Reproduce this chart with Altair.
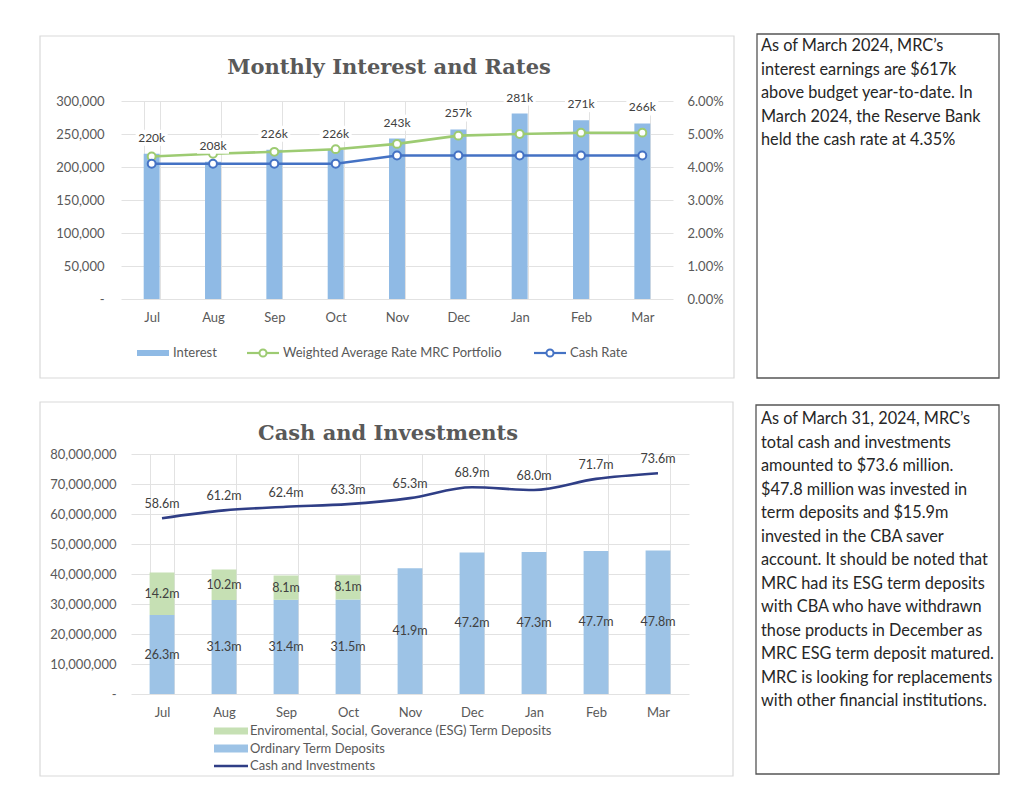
import altair as alt
import pandas as pd

# ---------------- data ----------------
months = ["Jul", "Aug", "Sep", "Oct", "Nov", "Dec", "Jan", "Feb", "Mar"]

interest = [220000, 208000, 226000, 226000, 243000, 257000, 281000, 271000, 266000]
weighted_avg_rate = [0.0432, 0.0440, 0.0446, 0.0454, 0.0470, 0.0495, 0.0500, 0.0504, 0.0504]
cash_rate = [0.0410, 0.0410, 0.0410, 0.0410, 0.0435, 0.0435, 0.0435, 0.0435, 0.0435]

ordinary_td_m = [26.3, 31.3, 31.4, 31.5, 41.9, 47.2, 47.3, 47.7, 47.8]
esg_td_m = [14.2, 10.2, 8.1, 8.1, 0, 0, 0, 0, 0]
cash_investments_m = [58.6, 61.2, 62.4, 63.3, 65.3, 68.9, 68.0, 71.7, 73.6]

top_series = ["Interest", "Weighted Average Rate MRC Portfolio", "Cash Rate"]
top_colors = ["#8FBAE5", "#9DCB72", "#4472C4"]
bottom_series = ["Enviromental, Social, Goverance (ESG) Term Deposits",
                 "Ordinary Term Deposits", "Cash and Investments"]
bottom_colors = ["#C6E0B4", "#9DC3E6", "#2F3E86"]

top_title = "Monthly Interest and Rates"
bottom_title = "Cash and Investments"

top_note = ["As of March 2024, MRC\u2019s",
            "interest earnings are $617k",
            "above budget year-to-date. In",
            "March 2024, the Reserve Bank",
            "held the cash rate at 4.35%"]
bottom_note = ["As of March 31, 2024, MRC\u2019s",
               "total cash and investments",
               "amounted to $73.6 million.",
               "$47.8 million was invested in",
               "term deposits and $15.9m",
               "invested in the CBA saver",
               "account.  It should be noted that",
               "MRC had its ESG term deposits",
               "with CBA who have withdrawn",
               "those products in December as",
               "MRC ESG term deposit matured.",
               "MRC is looking for replacements",
               "with other financial institutions."]

left_ticks_top = [0, 50000, 100000, 150000, 200000, 250000, 300000]
right_ticks_top = [0, 0.01, 0.02, 0.03, 0.04, 0.05, 0.06]
left_ticks_bottom = [0, 10e6, 20e6, 30e6, 40e6, 50e6, 60e6, 70e6, 80e6]

# ---------------- tables ----------------
interest_df = pd.DataFrame({"Month": months, "Interest": interest, "Series": top_series[0]})
rate_df = pd.concat([
    pd.DataFrame({"Month": months, "Rate": weighted_avg_rate, "Series": top_series[1]}),
    pd.DataFrame({"Month": months, "Rate": cash_rate, "Series": top_series[2]}),
])
bars_df = pd.concat([
    pd.DataFrame({"Month": months, "Amount": [v * 1e6 for v in ordinary_td_m],
                  "Type": bottom_series[1], "Order": 0}),
    pd.DataFrame({"Month": months, "Amount": [v * 1e6 for v in esg_td_m],
                  "Type": bottom_series[0], "Order": 1}),
])
total_df = pd.DataFrame({"Month": months, "Total": [v * 1e6 for v in cash_investments_m],
                         "Series": bottom_series[2]})
deco = pd.DataFrame({"k": [0]})

FONT = "Lato"
GREY = "#595959"
TXT = "#404040"


def box(x1, x2, y1, y2, color, width):
    return alt.Chart(deco).mark_rect(filled=False, stroke=color, strokeWidth=width).encode(
        x=alt.value(x1), x2=alt.value(x2), y=alt.value(y1), y2=alt.value(y2))


def cover(x1, x2, y1, y2):
    return alt.Chart(deco).mark_rect(color="white").encode(
        x=alt.value(x1), x2=alt.value(x2), y=alt.value(y1), y2=alt.value(y2))


def title_text(txt, x, y):
    return alt.Chart(deco).mark_text(
        text=txt, font="DejaVu Serif", fontWeight="bold", fontSize=21, color=GREY,
        align="center", baseline="alphabetic").encode(x=alt.value(x), y=alt.value(y))


def note_text(lines, x, y):
    return alt.Chart(deco).mark_text(
        text=lines, font=FONT, fontSize=16.3, color="#262626", align="left",
        baseline="alphabetic", lineHeight=23.5).encode(x=alt.value(x), y=alt.value(y))


def leg_rect(x1, x2, yc, h, color):
    return alt.Chart(deco).mark_rect(color=color).encode(
        x=alt.value(x1), x2=alt.value(x2), y=alt.value(yc - h / 2), y2=alt.value(yc + h / 2))


def leg_line(x1, x2, yc, color, w):
    return alt.Chart(deco).mark_rule(color=color, strokeWidth=w).encode(
        x=alt.value(x1), x2=alt.value(x2), y=alt.value(yc))


def leg_marker(xc, yc, color):
    return alt.Chart(deco).mark_point(
        shape="circle", size=50, filled=True, fill="white", stroke=color,
        strokeWidth=2, opacity=1).encode(x=alt.value(xc), y=alt.value(yc))


def leg_label(txt, x, yc):
    return alt.Chart(deco).mark_text(
        text=txt, font=FONT, fontSize=13, color=GREY, align="left",
        baseline="middle").encode(x=alt.value(x), y=alt.value(yc))


zero_dash = "datum.value === 0 ? '-' : format(datum.value, ',')"

# ---------------- top chart ----------------
top_color = alt.Color("Series:N", scale=alt.Scale(domain=top_series, range=top_colors), legend=None)

x_top = alt.X("Month:N", sort=months, title=None,
              scale=alt.Scale(paddingInner=0.74, paddingOuter=0.37),
              axis=alt.Axis(labelAngle=0, grid=True, tickBand="extent", labelPadding=12))

bars_top = alt.Chart(interest_df).mark_bar().encode(
    x=x_top,
    y=alt.Y("Interest:Q", title=None, scale=alt.Scale(domain=[0, 300000]),
            axis=alt.Axis(orient="left", values=left_ticks_top, labelExpr=zero_dash,
                          grid=True, labelPadding=17)),
    color=top_color)

y_rate = alt.Y("Rate:Q", title=None, scale=alt.Scale(domain=[0, 0.06]),
               axis=alt.Axis(orient="right", values=right_ticks_top, format=".2%",
                             grid=False, labelPadding=14))
lines_top = alt.Chart(rate_df).mark_line(strokeWidth=2.6).encode(x=x_top, y=y_rate, color=top_color)
points_top = alt.Chart(rate_df).mark_point(
    shape="circle", size=62, filled=True, fill="white", strokeWidth=2, opacity=1).encode(
    x=x_top, y=y_rate,
    stroke=alt.Stroke("Series:N", scale=alt.Scale(domain=top_series, range=top_colors), legend=None))

label_y = alt.Y("Interest:Q", title=None, scale=alt.Scale(domain=[0, 300000]), axis=None)
label_box = alt.Chart(interest_df).mark_point(
    shape="M-1,-0.5H1V0.5H-1Z", size=1024, filled=True, fill="white", opacity=1,
    strokeWidth=0, yOffset=-16).encode(x=x_top, y=label_y)
label_txt = alt.Chart(interest_df).transform_calculate(
    lbl="format(datum.Interest / 1000, '.0f') + 'k'").mark_text(
    font=FONT, fontSize=12, color=TXT, dy=-16, baseline="middle").encode(
    x=x_top, y=label_y, text="lbl:N")

top_legend = [
    leg_rect(16, 48, 252, 6, top_colors[0]), leg_label(top_series[0], 52, 252),
    leg_line(126, 158, 252, top_colors[1], 2.2), leg_marker(142, 252, top_colors[1]),
    leg_label(top_series[1], 162, 252),
    leg_line(413, 445, 252, top_colors[2], 2.2), leg_marker(429, 252, top_colors[2]),
    leg_label(top_series[2], 449, 252),
]

top = alt.layer(
    box(-81, 613, -65, 277, "#D9D9D9", 1.2),
    title_text(top_title, 268, -27),
    box(636, 878, -67, 277, "#555555", 1.3),
    note_text(top_note, 640, -50),
    *top_legend,
    bars_top,
    alt.layer(lines_top, points_top),
    alt.layer(label_box, label_txt),
).resolve_scale(y="independent").properties(width=552, height=198)

# ---------------- bottom chart ----------------
# the plot area of this panel starts 10px right of the shared column origin
bottom_scale = alt.Scale(domain=bottom_series, range=bottom_colors)

x_bot = alt.X("Month:N", sort=months, title=None,
              scale=alt.Scale(range=[10, 568], paddingInner=0.6, paddingOuter=0.3),
              axis=alt.Axis(labelAngle=0, grid=True, tickBand="extent", labelPadding=12))
y_axis_bot = alt.Axis(values=left_ticks_bottom, labelExpr=zero_dash, grid=True, labelPadding=5)
y_scale_bot = alt.Scale(domain=[0, 80e6])

bars_bot = alt.Chart(bars_df).transform_filter("datum.Amount > 0").mark_bar().encode(
    x=x_bot,
    y=alt.Y("Amount:Q", title=None, stack="zero", scale=y_scale_bot, axis=y_axis_bot),
    color=alt.Color("Type:N", scale=bottom_scale, legend=None),
    order=alt.Order("Order:Q"))

bar_lbl = alt.Chart(bars_df).transform_filter("datum.Amount > 0").transform_stack(
    stack="Amount", groupby=["Month"], as_=["a0", "a1"],
    sort=[alt.SortField("Order", order="ascending")]).transform_calculate(
    mid="(datum.a0 + datum.a1) / 2",
    lbl="format(datum.Amount / 1000000, '.1f') + 'm'").mark_text(
    font=FONT, fontSize=12.5, color=TXT, baseline="middle").encode(
    x=x_bot, y=alt.Y("mid:Q", title=None, scale=y_scale_bot, axis=y_axis_bot), text="lbl:N")

line_bot = alt.Chart(total_df).mark_line(interpolate="monotone", strokeWidth=2.6).encode(
    x=x_bot, y=alt.Y("Total:Q", title=None, scale=y_scale_bot, axis=y_axis_bot),
    color=alt.Color("Series:N", scale=bottom_scale, legend=None))

line_lbl = alt.Chart(total_df).transform_calculate(
    lbl="format(datum.Total / 1000000, '.1f') + 'm'").mark_text(
    font=FONT, fontSize=12.5, color=TXT, dy=-14, baseline="middle").encode(
    x=x_bot, y=alt.Y("Total:Q", title=None, scale=y_scale_bot, axis=y_axis_bot), text="lbl:N")

bottom_legend = [
    leg_rect(93, 127, 277, 7, bottom_colors[0]), leg_label(bottom_series[0], 129, 277),
    leg_rect(93, 127, 294.5, 8, bottom_colors[1]), leg_label(bottom_series[1], 129, 294.5),
    leg_line(93, 127, 312, bottom_colors[2], 2.5), leg_label(bottom_series[2], 129, 312),
]

bottom = alt.layer(
    box(-81, 612, -52, 322, "#D9D9D9", 1.2),
    title_text(bottom_title, 267, -14),
    box(635, 878, -49, 320, "#555555", 1.3),
    note_text(bottom_note, 640, -30),
    cover(0, 9.5, -1, 241),
    *bottom_legend,
    bars_bot, bar_lbl, line_bot, line_lbl,
).properties(width=568, height=240)

chart = alt.concat(top, bottom, columns=1, spacing=20).resolve_scale(
    color="independent", stroke="independent"
).properties(
    padding={"left": 30, "top": 24, "right": 5, "bottom": 5}
).configure_view(stroke="transparent").configure_axis(
    labelFont=FONT, labelFontSize=13, labelColor=GREY, gridColor="#E2E2E2",
    domain=False, ticks=False)

chart.save("out.html", embed_options={"renderer": "svg", "actions": False})
